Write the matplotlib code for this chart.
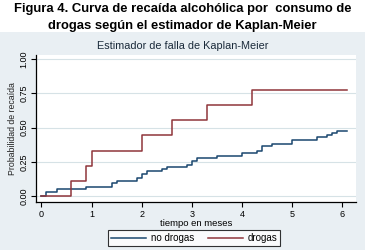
import matplotlib.pyplot as plt

# tiempos de salto y probabilidad acumulada (estimador de falla K-M)
t_drogas = [0, 0.59, 0.90, 1.0, 2.01, 2.61, 3.31, 4.20, 6.1]
p_drogas = [0, 0.111, 0.222, 0.333, 0.444, 0.556, 0.667, 0.778, 0.778]

t_nodrogas = [0, 0.10, 0.32, 0.90, 1.40, 1.51, 1.91, 2.01, 2.11, 2.41, 2.51,
              2.91, 3.01, 3.11, 3.51, 4.00, 4.30, 4.40, 4.60, 5.00, 5.50,
              5.70, 5.80, 5.90, 6.1]
p_nodrogas = [0, 0.029, 0.051, 0.066, 0.095, 0.114, 0.131, 0.160, 0.182,
              0.197, 0.212, 0.226, 0.260, 0.277, 0.292, 0.313, 0.329, 0.366,
              0.380, 0.410, 0.430, 0.445, 0.460, 0.475, 0.475]

xticks = [0, 1, 2, 3, 4, 5, 6]
yticks = [0, 0.25, 0.5, 0.75, 1.0]
ytick_labels = ['0.00', '0.25', '0.50', '0.75', '1.00']

plt.rcParams['font.family'] = ['Liberation Sans', 'DejaVu Sans']

fig = plt.figure(figsize=(3.65, 2.5), dpi=100)
fig.patch.set_facecolor('white')

# fondo del gráfico de Stata
bg = plt.Rectangle((0, 0), 1, 1 - 32 / 250, transform=fig.transFigure,
                   facecolor='#e9eff3', edgecolor='none', zorder=-10)
fig.patches.append(bg)

fig.text(0.5, 1 - 9 / 250, 'Figura 4. Curva de recaída alcohólica por  consumo de',
         ha='center', va='center', fontsize=9.4, fontweight='bold')
fig.text(0.5, 1 - 26 / 250, 'drogas según el estimador de Kaplan-Meier',
         ha='center', va='center', fontsize=9.4, fontweight='bold')

ax = fig.add_axes([36 / 365, 1 - 202 / 250, 320 / 365, 147 / 250])
ax.set_facecolor('white')

ax.text(0.5, 1 - 46 / 250, 'Estimador de falla de Kaplan-Meier', transform=fig.transFigure,
        ha='center', va='center', fontsize=7.8, color='#1a2a3a')

for y in yticks:
    ax.axhline(y, color='#d6e2e6', lw=0.8, zorder=0)

ax.step(t_nodrogas, p_nodrogas, where='post', color='#1a476f', lw=1.1, label='no drogas')
ax.step(t_drogas, p_drogas, where='post', color='#90353b', lw=1.1, label='drogas')

ax.set_xlim(-0.106, 6.27)
ax.set_ylim(-0.042, 1.031)
ax.set_xticks(xticks)
ax.set_yticks(yticks)
ax.set_yticklabels(ytick_labels, rotation=90, va='center')
ax.tick_params(labelsize=6.5, length=3.5, width=0.8, pad=2)
for s in ['top', 'right']:
    ax.spines[s].set_visible(False)
for s in ['left', 'bottom']:
    ax.spines[s].set_linewidth(0.9)

ax.set_xlabel('tiempo en meses', fontsize=6.8, labelpad=0.5)
ax.set_ylabel('Probabilidad de recaída', fontsize=6.3, labelpad=2, color='#222222')

leg = fig.legend(loc='center', bbox_to_anchor=(194 / 365, 1 - 238 / 250), ncol=2,
                 fontsize=7, frameon=True, fancybox=False, handlelength=3.6,
                 columnspacing=1.4, borderpad=0.3, handletextpad=0.5)
leg.get_frame().set_edgecolor('black')
leg.get_frame().set_linewidth(0.8)

fig.savefig('out.png', dpi=100, facecolor=fig.get_facecolor())
